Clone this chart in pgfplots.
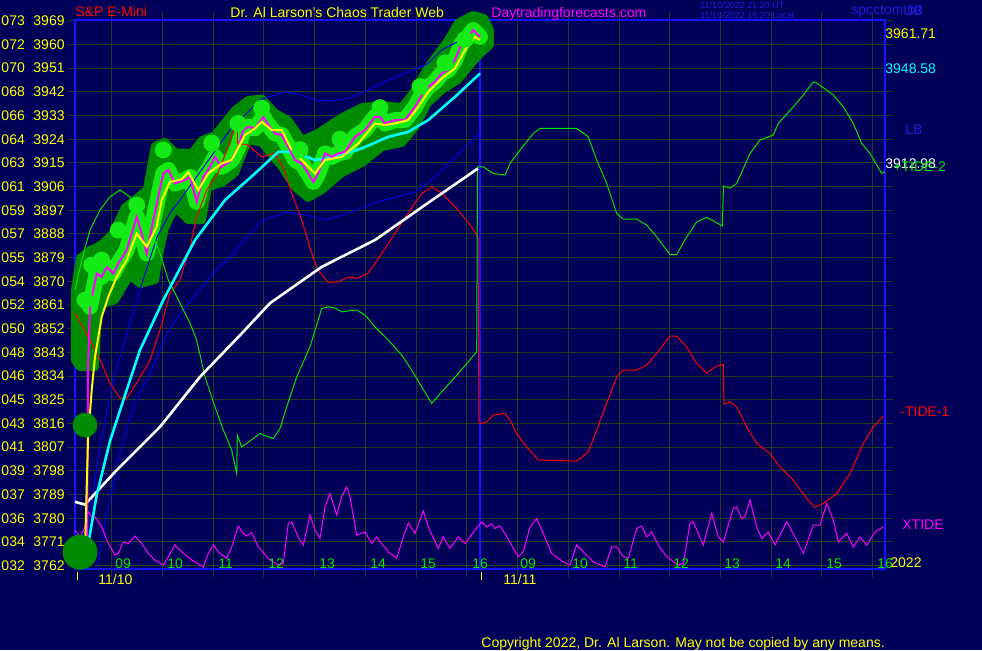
\documentclass[border=0pt]{standalone}
\usepackage{pgfplots}
\pgfplotsset{compat=1.18}
\usepackage{pgfplotstable}
\usepackage{fontspec}
\setmainfont{Liberation Sans}

\definecolor{bg}{RGB}{0,0,88}
\definecolor{gridc}{RGB}{30,60,30}
\definecolor{bord}{RGB}{20,20,255}
\definecolor{dkgreen}{RGB}{0,140,0}
\definecolor{ltgreen}{RGB}{20,235,20}
\definecolor{mag}{RGB}{255,0,255}
\definecolor{yel}{RGB}{255,255,0}
\definecolor{cyn}{RGB}{0,255,255}
\definecolor{tgreen}{RGB}{0,230,0}
\definecolor{bline}{RGB}{0,0,230}
\definecolor{txtblue}{RGB}{30,30,220}

% x = chart pixel column (time), y = S&P price
\pgfplotstableread{
x y
77 3762.2
82 3766.7
85 3764.0
87 3766.7
88 3836.3
90 3860.3
96.7 3873.0
101.7 3871.7
106.7 3875.5
113.3 3873.0
118.3 3876.8
126.7 3881.9
136.7 3894.5
141.7 3888.2
146.7 3880.6
153.3 3893.3
163.3 3911.0
168.3 3912.3
175 3907.2
185 3908.5
190 3909.7
196.7 3900.2
203.3 3909.7
210 3913.5
215 3917.3
221.7 3913.5
231.7 3916.1
238.3 3921.1
243.3 3927.5
248.3 3928.7
255 3928.1
263.3 3932.5
268.3 3929.4
275 3926.2
281.7 3925.6
288.3 3921.1
295 3916.1
301.7 3914.8
308.3 3911.0
313.3 3907.8
318.3 3911.0
325 3918.6
331.7 3917.3
338.3 3918.6
345 3919.2
355 3924.9
365 3927.5
375 3932.5
380 3932.5
385 3930.0
395 3931.3
405 3931.3
415 3936.3
421.7 3940.8
428.3 3943.9
435 3945.8
441.7 3949.0
448.3 3950.3
455 3954.1
461.7 3960.4
468.3 3962.9
473.3 3965.5
480 3962.9
}\price

\pgfplotstableread{
x y
79 3761.0
85 3767.9
88 3809.7
91.7 3828.7
95 3841.3
101.7 3856.5
108.3 3864.1
116.7 3871.7
126.7 3878.1
136.7 3888.2
146.7 3883.1
156.7 3890.7
161.7 3900.9
170 3907.8
181.7 3908.8
188.3 3911.5
198.3 3904.7
208.3 3911.0
221.7 3914.8
231.7 3916.1
245 3925.6
255 3928.1
261.7 3930.6
271.7 3927.5
281.7 3927.5
291.7 3919.9
301.7 3916.1
315 3911.0
325 3916.1
341.7 3917.3
358.3 3922.4
375 3930.0
385 3929.4
395 3930.0
408.3 3931.3
418.3 3936.3
428.3 3942.0
441.7 3947.1
455 3950.9
465 3957.9
475 3962.9
480 3961.7
}\smooth

\pgfplotstableread{
x y
75 3866.7
80 3878.9
90 3881.9
97 3883.0
103 3884.6
113 3888.4
125 3898.2
137 3901.7
147 3905.0
155 3921.5
165 3923.0
175 3919.0
192 3918.8
202 3923.7
215 3925.6
235 3935.1
248 3938.9
262 3939.5
275 3934.0
288 3931.3
302 3923.7
318 3926.4
342 3932.4
362 3936.2
382 3937.0
402 3936.2
415 3942.7
428 3951.4
448 3961.7
458 3968.2
473 3971.2
484 3970.1
490 3965.5
490 3959.8
482 3957.1
472 3953.0
458 3946.5
442 3942.7
428 3937.8
415 3928.6
402 3922.6
382 3921.0
362 3915.0
342 3911.2
322 3904.7
308 3901.7
295 3905.8
282 3913.4
262 3922.6
248 3923.7
235 3911.2
222 3907.4
208 3905.8
202 3893.3
188 3893.3
175 3898.2
165 3890.3
160 3881.9
155 3870.5
140 3869.0
130 3872.4
115 3862.9
100 3861.0
97 3851.5
95 3837.4
80 3837.4
75 3840.1
}\glow

\begin{document}
\begin{tikzpicture}[x=0.5pt,y=0.5pt]
\fill[bg] (0,0) rectangle (982,650);
\begin{axis}[
  at={(37.5pt,40.5pt)}, anchor=south west,
  scale only axis, width=405pt, height=274.5pt,
  xmin=75, xmax=885, ymin=3760.7, ymax=3969.3,
  clip=false,
  axis line style={draw=bord, line width=1pt},
  xtick={111.7,162.4,213.2,263.9,314.6,365.4,416.1,466.8,517.5,568.3,619.0,669.7,720.5,771.2,821.9,872.7},
  xticklabels={},
  ytick={3762,3771,3780,3789,3798,3807,3816,3825,3834,3843,3852,3861,3870,3879,3888,3897,3906,3915,3924,3933,3942,3951,3960,3969},
  yticklabels={032\hspace{4.3pt}3762,034\hspace{4.3pt}3771,036\hspace{4.3pt}3780,037\hspace{4.3pt}3789,039\hspace{4.3pt}3798,041\hspace{4.3pt}3807,043\hspace{4.3pt}3816,045\hspace{4.3pt}3825,046\hspace{4.3pt}3834,048\hspace{4.3pt}3843,050\hspace{4.3pt}3852,052\hspace{4.3pt}3861,054\hspace{4.3pt}3870,055\hspace{4.3pt}3879,057\hspace{4.3pt}3888,059\hspace{4.3pt}3897,061\hspace{4.3pt}3906,063\hspace{4.3pt}3915,064\hspace{4.3pt}3924,066\hspace{4.3pt}3933,068\hspace{4.3pt}3942,070\hspace{4.3pt}3951,072\hspace{4.3pt}3960,073\hspace{4.3pt}3969},
  yticklabel style={text=yel, font=\fontsize{7}{8}\selectfont, anchor=east, inner sep=0pt, xshift=-1pt},
  grid=major,
  major grid style={draw=gridc, line width=0.5pt},
  tick align=outside, major tick length=4pt,
  tick style={draw=gridc, line width=0.5pt},
]
% day divider
\draw[bord, line width=1pt] (axis cs:480,3760.7) -- (axis cs:480,3969.3);

% chaos clusters glow
\addplot[draw=dkgreen, fill=dkgreen, line width=4pt, line join=round] table {\glow} -- cycle;
\addplot[only marks, mark=*, mark size=6pt, dkgreen] coordinates {(85,3815.4)};
\addplot[only marks, mark=*, mark size=8.5pt, dkgreen] coordinates {(80,3767.1)};
\addplot[ltgreen, line width=8pt, line join=round, line cap=round, restrict x to domain=89:485] table {\price};
\addplot[only marks, mark=*, mark size=4pt, ltgreen] coordinates {
 (85,3862.9) (91.7,3876.2) (101.7,3878.1) (118.3,3889.5) (136.7,3899.0)
 (163.3,3919.9) (211.7,3922.5) (238,3930) (261.7,3935.8) (300,3920)
 (340,3924) (380,3936) (420,3944) (445,3953) (465,3962)};

% bands
\addplot[bline, line width=0.5pt] coordinates {
 (86,3769.8) (90,3781.9) (100,3807.0) (113,3832.5) (130,3854.1) (143,3870.5)
 (157,3886.8) (170,3895.9) (180,3900.9) (205,3914.2) (230,3927.5) (260,3938.9)
 (275,3940.8) (286.7,3942.0) (301.7,3940.8) (315,3938.9) (330,3938.5)
 (348.3,3939.5) (368.3,3942.7) (388.3,3946.5) (408.3,3949.6) (428.3,3952.8)
 (441.7,3957.9) (470,3963.5)};
\addplot[bline, line width=0.5pt] coordinates {
 (97,3761.4) (107,3781.9) (120,3804.7) (133,3822.2) (153,3837.4) (167,3850.3)
 (180,3857.9) (197,3865.5) (213,3873.1) (230,3879.2) (247,3886.8) (263,3893.3)
 (287,3896.3) (307,3895.2) (325,3893.3) (348,3895.9) (368,3899.0) (395,3902.0)
 (415,3903.9) (435,3909.6) (455,3917.2) (480,3926.3)};

% -TIDE-1
\addplot[red, line width=0.5pt] coordinates {
 (75,3857.9) (90,3847.7) (100,3840.1) (110,3831.3) (120,3825.6) (126.7,3825.6)
 (136.7,3831.3) (150,3840.1) (160,3851.5) (170,3865.5) (180,3870.5) (190,3883.0)
 (196.7,3894.4) (206.7,3904.7) (218,3911.1) (228,3921.0) (236.7,3931.3)
 (237,3932.4) (237.5,3922.5) (248,3921.8) (261.7,3917.3) (275,3918.7)
 (283,3913.4) (291.7,3903.5) (301.7,3893.3) (311.7,3880.7) (318,3874.3)
 (328,3869.7) (338,3869.7) (348,3871.6) (358,3871.2) (368,3873.1) (382,3880.7)
 (395,3888.3) (408,3895.9) (422,3903.5) (432,3905.8) (442,3903.5) (458,3897.1)
 (472,3890.6) (478,3886.8) (479,3816.5)
 (480,3816.0) (486.7,3816.6) (493.3,3819.2) (505,3819.8) (510,3817.3)
 (516.7,3812.2) (526.7,3807.1) (538.3,3802.1) (576.7,3801.7) (588.3,3805.2)
 (596.7,3813.5) (606.7,3823.6) (616.7,3833.7) (623.3,3836.3) (636.7,3836.3)
 (646.7,3838.2) (656.7,3842.6) (670,3849.2) (676.7,3849.2) (686.7,3845.1)
 (696.7,3838.8) (706.7,3835.2) (716.7,3837.8) (723.3,3838.4) (724,3823.3)
 (730,3824.2) (736.7,3822.3) (746.7,3814.7) (756.7,3808.4) (770,3804.6)
 (780,3799.5) (793.3,3794.5) (806.7,3787.5) (815,3784.1) (823.3,3785.6)
 (836.7,3789.4) (850,3797.0) (863.3,3808.4) (873.3,3814.7) (883.3,3818.8)};

% +TIDE-2
\addplot[tgreen, line width=0.5pt] coordinates {
 (75,3866.7) (81.7,3878.1) (90,3889.5) (100,3897.1) (110,3902.1) (120,3904.7)
 (130,3902.1) (140,3895.9) (151.7,3888.3) (160,3880.7) (168.3,3870.5)
 (180,3861.7) (190,3854.1) (196.7,3847.7) (205,3833.7) (215,3822.3)
 (223.3,3813.5) (231.7,3805.9) (236.7,3797.0) (237.3,3811.6) (241.7,3807.1)
 (246.7,3808.4) (260,3812.2) (268.3,3810.9) (273.3,3810.3) (280,3814.1)
 (286.7,3822.3) (296.7,3833.7) (310,3845.1) (321.7,3859.7) (328.3,3860.3)
 (335,3859.9) (341.7,3858.4) (348.3,3858.8) (356.7,3859.1) (365,3857.2)
 (375,3852.7) (388.3,3847.7) (401.7,3842.0) (411.7,3836.3) (421.7,3829.9)
 (431.7,3823.6) (441.7,3828.0) (458.3,3835.0) (476.7,3843.2) (477.5,3913.5)
 (483.3,3913.5) (493.3,3911.0) (505,3910.4) (510,3914.8) (520,3919.9)
 (533.3,3926.2) (540,3928.1) (576.7,3928.1) (588.3,3924.9) (596.7,3916.1)
 (606.7,3907.2) (616.7,3895.8) (623.3,3893.6) (636.7,3893.6) (646.7,3891.4)
 (656.7,3886.9) (670,3880.2) (676.7,3880.2) (686.7,3886.9) (696.7,3892.6)
 (706.7,3894.3) (722.3,3891.1) (723.5,3906.2) (730,3905.4) (736.7,3907.2)
 (750,3918.6) (760,3923.7) (773.3,3925.6) (778.3,3930.0) (793.3,3936.3)
 (803.3,3940.8) (813.3,3945.8) (816.7,3945.4) (833.3,3940.8) (843.3,3936.3)
 (853.3,3930.0) (861.7,3922.4) (870,3918.6) (881.7,3911.0) (885,3911.6)};

% XTIDE
\addplot[mag, line width=0.5pt] coordinates {
 (75,3775.5) (80,3772.9) (85,3776.7) (88.3,3782.4) (91.7,3780.5) (95,3780.5)
 (101.7,3776.7) (108.3,3770.4) (115,3766.0) (118.3,3766.6) (123.3,3771.0)
 (128.3,3770.4) (135,3773.2) (141.7,3770.4) (148.3,3766.6) (155,3764.1)
 (163.3,3762.2) (168.3,3765.4) (175,3769.8) (181.7,3767.2) (191.7,3764.1)
 (203.3,3761.5) (208.3,3766.6) (213.3,3769.8) (218.3,3767.2) (226.7,3764.7)
 (231.7,3769.1) (238.3,3777.0) (243.3,3774.2) (246.7,3773.2) (251.7,3774.6)
 (258.3,3769.1) (268.3,3764.7) (278.3,3762.2) (283.3,3762.8) (288.3,3778.0)
 (291.7,3778.6) (298.3,3772.9) (303.3,3769.8) (310,3781.2) (315,3775.5)
 (320,3772.3) (325,3784.3) (330,3789.4) (336.7,3781.2) (341.7,3788.1)
 (346.7,3791.9) (350,3788.1) (356.7,3773.6) (365,3774.8) (371.7,3770.4)
 (376.7,3772.9) (381.7,3770.4) (388.3,3767.2) (396.7,3764.7) (403.3,3772.9)
 (408.3,3778.2) (415,3774.2) (423.3,3782.8) (428.3,3776.7) (438.3,3768.5)
 (443.3,3772.9) (450,3768.5) (458.3,3772.9) (465,3770.4) (475,3775.5)
 (481.7,3778.6) (486.7,3776.7) (491.7,3777.8) (495,3776.1) (500,3777.0)
 (505,3774.2) (513.3,3768.5) (518.3,3765.4) (523.3,3767.2) (530,3776.7)
 (536.7,3779.9) (543.3,3774.2) (551.7,3766.6) (563.3,3763.4) (570,3762.2)
 (576.7,3769.8) (585,3766.6) (593.3,3763.4) (605,3761.5) (611.7,3769.1)
 (616.7,3769.1) (623.3,3765.4) (628.3,3764.7) (636.7,3776.1) (641.7,3777.0)
 (646.7,3772.9) (651.7,3774.8) (658.3,3769.8) (666.7,3765.4) (678.3,3762.2)
 (683.3,3762.8) (690,3778.0) (693.3,3778.6) (698.3,3774.2) (703.3,3769.8)
 (711.7,3781.8) (718.3,3772.9) (723.3,3771.0) (733.3,3783.7) (736.7,3784.3)
 (741.7,3779.9) (745,3780.5) (750,3786.9) (756.7,3776.7) (761.7,3772.3)
 (768.3,3774.8) (775,3769.8) (786.7,3778.6) (793.3,3774.2) (803.3,3766.6)
 (813.3,3777.4) (820,3777.4) (826.7,3785.6) (833.3,3779.3) (838.3,3771.0)
 (846.7,3774.2) (853.3,3769.1) (860,3772.9) (866.7,3769.8) (875,3774.8)
 (883.3,3776.7)};

% long average
\addplot[white, line width=1.3pt] coordinates {
 (75,3786.2) (85,3785.2) (115,3797.6) (160,3814.7) (200,3833.7) (241.7,3850.2)
 (270,3861.7) (321.7,3875.5) (375,3885.7) (425,3899.0) (478,3912.9)};
% short average
\addplot[cyn, line width=1.3pt] coordinates {
 (75,3763.4) (86,3763.4) (86,3765.2) (96.7,3788.8) (110,3809.3) (126.7,3828.7)
 (140,3843.9) (163.3,3862.9) (195,3885.7) (225,3900.9) (255,3911.0)
 (278.3,3919.2) (295,3919.2) (315,3916.1) (335,3917.3) (361.7,3920.5)
 (388.3,3924.9) (408.3,3926.8) (428.3,3931.3) (455,3940.1) (480,3949.0)};
% price and smoothed price
\addplot[mag, line width=1pt] table {\price};
\addplot[yel, line width=1pt] table {\smooth};
\end{axis}

\begin{scope}[every node/.style={anchor=base west, inner sep=0pt, font=\fontsize{7}{8}\selectfont}]
\node[text=red] at (75,633) {S\&P E-Mini};
\node[text=yel] at (230,632.5) {Dr. Al Larson's Chaos Trader Web};
\node[text=mag] at (491,632.5) {Daytradingforecasts.com};
\node[text=txtblue, font=\fontsize{4.5}{5}\selectfont] at (700,641.7) {11/10/2022 21:20 UT};
\node[text=txtblue, font=\fontsize{4.5}{5}\selectfont] at (700,631.7) {11/10/2022 16:20 Local};
\node[text=txtblue] at (851,635) {spcctom.txt};
\node[text=txtblue] at (903,634.3) {UB};
\node[text=txtblue] at (905,516) {LB};
\node[text=yel] at (885,611) {3961.71};
\node[text=cyn] at (885,576) {3948.58};
\node[text=white] at (885,481.7) {3912.98};
\node[text=tgreen] at (893,478.3) {+TIDE-2};
\node[text=red] at (900,234) {-TIDE-1};
\node[text=mag] at (902,121) {XTIDE};
\node[text=yel] at (890,83) {2022};
\node[text=yel] at (98,66) {11/10};
\node[text=yel] at (503,66) {11/11};
\node[text=yel] at (481,2.7) {Copyright 2022, Dr. Al Larson. May not be copied by any means.};
\foreach \xx/\hh in {115/09,167/10,218/11,268/12,319/13,370/14,420/15,472/16,520/09,572/10,623/11,673/12,724/13,775/14,826/15,877/16}
  \node[text=tgreen] at (\xx,82) {\hh};
\end{scope}
\draw[yel, line width=0.5pt] (77,70) -- (77,78) (481,70) -- (481,78);
\pgfresetboundingbox
\path (0,0) rectangle (982,650);
\end{tikzpicture}
\end{document}
